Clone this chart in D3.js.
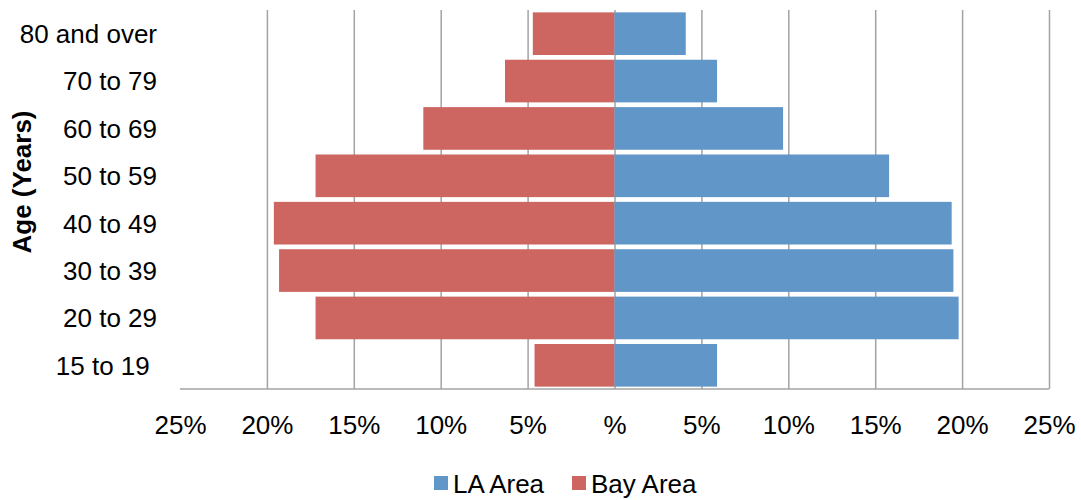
<!DOCTYPE html>
<html>
<head>
<meta charset="utf-8">
<script src="https://cdn.jsdelivr.net/npm/d3@7"></script>
<style>
  body { margin: 0; background: #fff; }
  text { font-family: "Liberation Sans", Arial, sans-serif; fill: #000; }
</style>
</head>
<body>
<svg id="chart"></svg>
<script>
// age groups, top to bottom
const ageGroups = ['80 and over', '70 to 79', '60 to 69', '50 to 59', '40 to 49', '30 to 39', '20 to 29', '15 to 19\u00a0'];
// percent of population in each age group
const laArea  = [4.1, 5.9, 9.7, 15.8, 19.4, 19.5, 19.8, 5.9];
const bayArea = [4.7, 6.3, 11.0, 17.2, 19.6, 19.3, 17.2, 4.6];
const tickValues = [-25, -20, -15, -10, -5, 0, 5, 10, 15, 20, 25];
const seriesNames = ['LA Area', 'Bay Area'];
const colors = ['#6196c9', '#cd6661'];

const width = 1081, height = 500;
const plotLeft = 180, plotRight = 1049, plotTop = 10, plotBottom = 389;

const svg = d3.select('#chart')
    .attr('width', width)
    .attr('height', height);

const x = d3.scaleLinear()
    .domain([-25, 25])
    .range([plotLeft, plotRight]);

const y = d3.scaleBand()
    .domain(ageGroups)
    .range([plotTop, plotBottom])
    .paddingInner(0.1)
    .paddingOuter(0.05);

// vertical gridlines (no line at the far left)
const grid = svg.append('g')
    .attr('transform', `translate(0, ${plotBottom})`)
    .call(d3.axisBottom(x)
        .tickValues(tickValues.filter(d => d > -25))
        .tickSize(-(plotBottom - plotTop))
        .tickFormat(''));
grid.select('.domain').remove();
grid.selectAll('line')
    .attr('stroke', '#a3a3a3')
    .attr('stroke-width', 1.5);

// bottom axis line
svg.append('line')
    .attr('x1', plotLeft).attr('x2', plotRight)
    .attr('y1', plotBottom).attr('y2', plotBottom)
    .attr('stroke', '#a3a3a3')
    .attr('stroke-width', 1.5);

// bars
const rows = ageGroups.map((g, i) => ({ group: g, la: laArea[i], bay: bayArea[i] }));

svg.append('g').selectAll('rect')
    .data(rows)
    .join('rect')
    .attr('x', d => x(-d.bay))
    .attr('y', d => y(d.group))
    .attr('width', d => x(0) - x(-d.bay))
    .attr('height', y.bandwidth())
    .attr('fill', colors[1]);

svg.append('g').selectAll('rect')
    .data(rows)
    .join('rect')
    .attr('x', x(0))
    .attr('y', d => y(d.group))
    .attr('width', d => x(d.la) - x(0))
    .attr('height', y.bandwidth())
    .attr('fill', colors[0]);

// x tick labels
const xLabels = svg.append('g')
    .attr('transform', `translate(0, ${plotBottom})`)
    .call(d3.axisBottom(x)
        .tickValues(tickValues)
        .tickSize(0)
        .tickPadding(27)
        .tickFormat(d => d === 0 ? '%' : Math.abs(d) + '%'));
xLabels.select('.domain').remove();
xLabels.selectAll('text')
    .style('font-size', '26px')
    .attr('font-family', '"Liberation Sans", Arial, sans-serif');

// y category labels
const yLabels = svg.append('g')
    .attr('transform', `translate(${plotLeft}, 0)`)
    .call(d3.axisLeft(y).tickSize(0).tickPadding(23));
yLabels.select('.domain').remove();
yLabels.selectAll('text')
    .style('font-size', '26px')
    .attr('font-family', '"Liberation Sans", Arial, sans-serif')
    .attr('dy', '0.36em');

// axis title
svg.append('text')
    .attr('transform', 'translate(31, 182) rotate(-90)')
    .attr('text-anchor', 'middle')
    .style('font-size', '26px')
    .style('font-weight', 'bold')
    .text('Age (Years)');

// legend
const legendX = [434, 572];
const legend = svg.append('g').selectAll('g')
    .data(seriesNames)
    .join('g')
    .attr('transform', (d, i) => `translate(${legendX[i]}, 476)`);
legend.append('rect')
    .attr('width', 14).attr('height', 14)
    .attr('fill', (d, i) => colors[i]);
legend.append('text')
    .attr('x', 19).attr('y', 17)
    .style('font-size', '26px')
    .text(d => d);
</script>
</body>
</html>
